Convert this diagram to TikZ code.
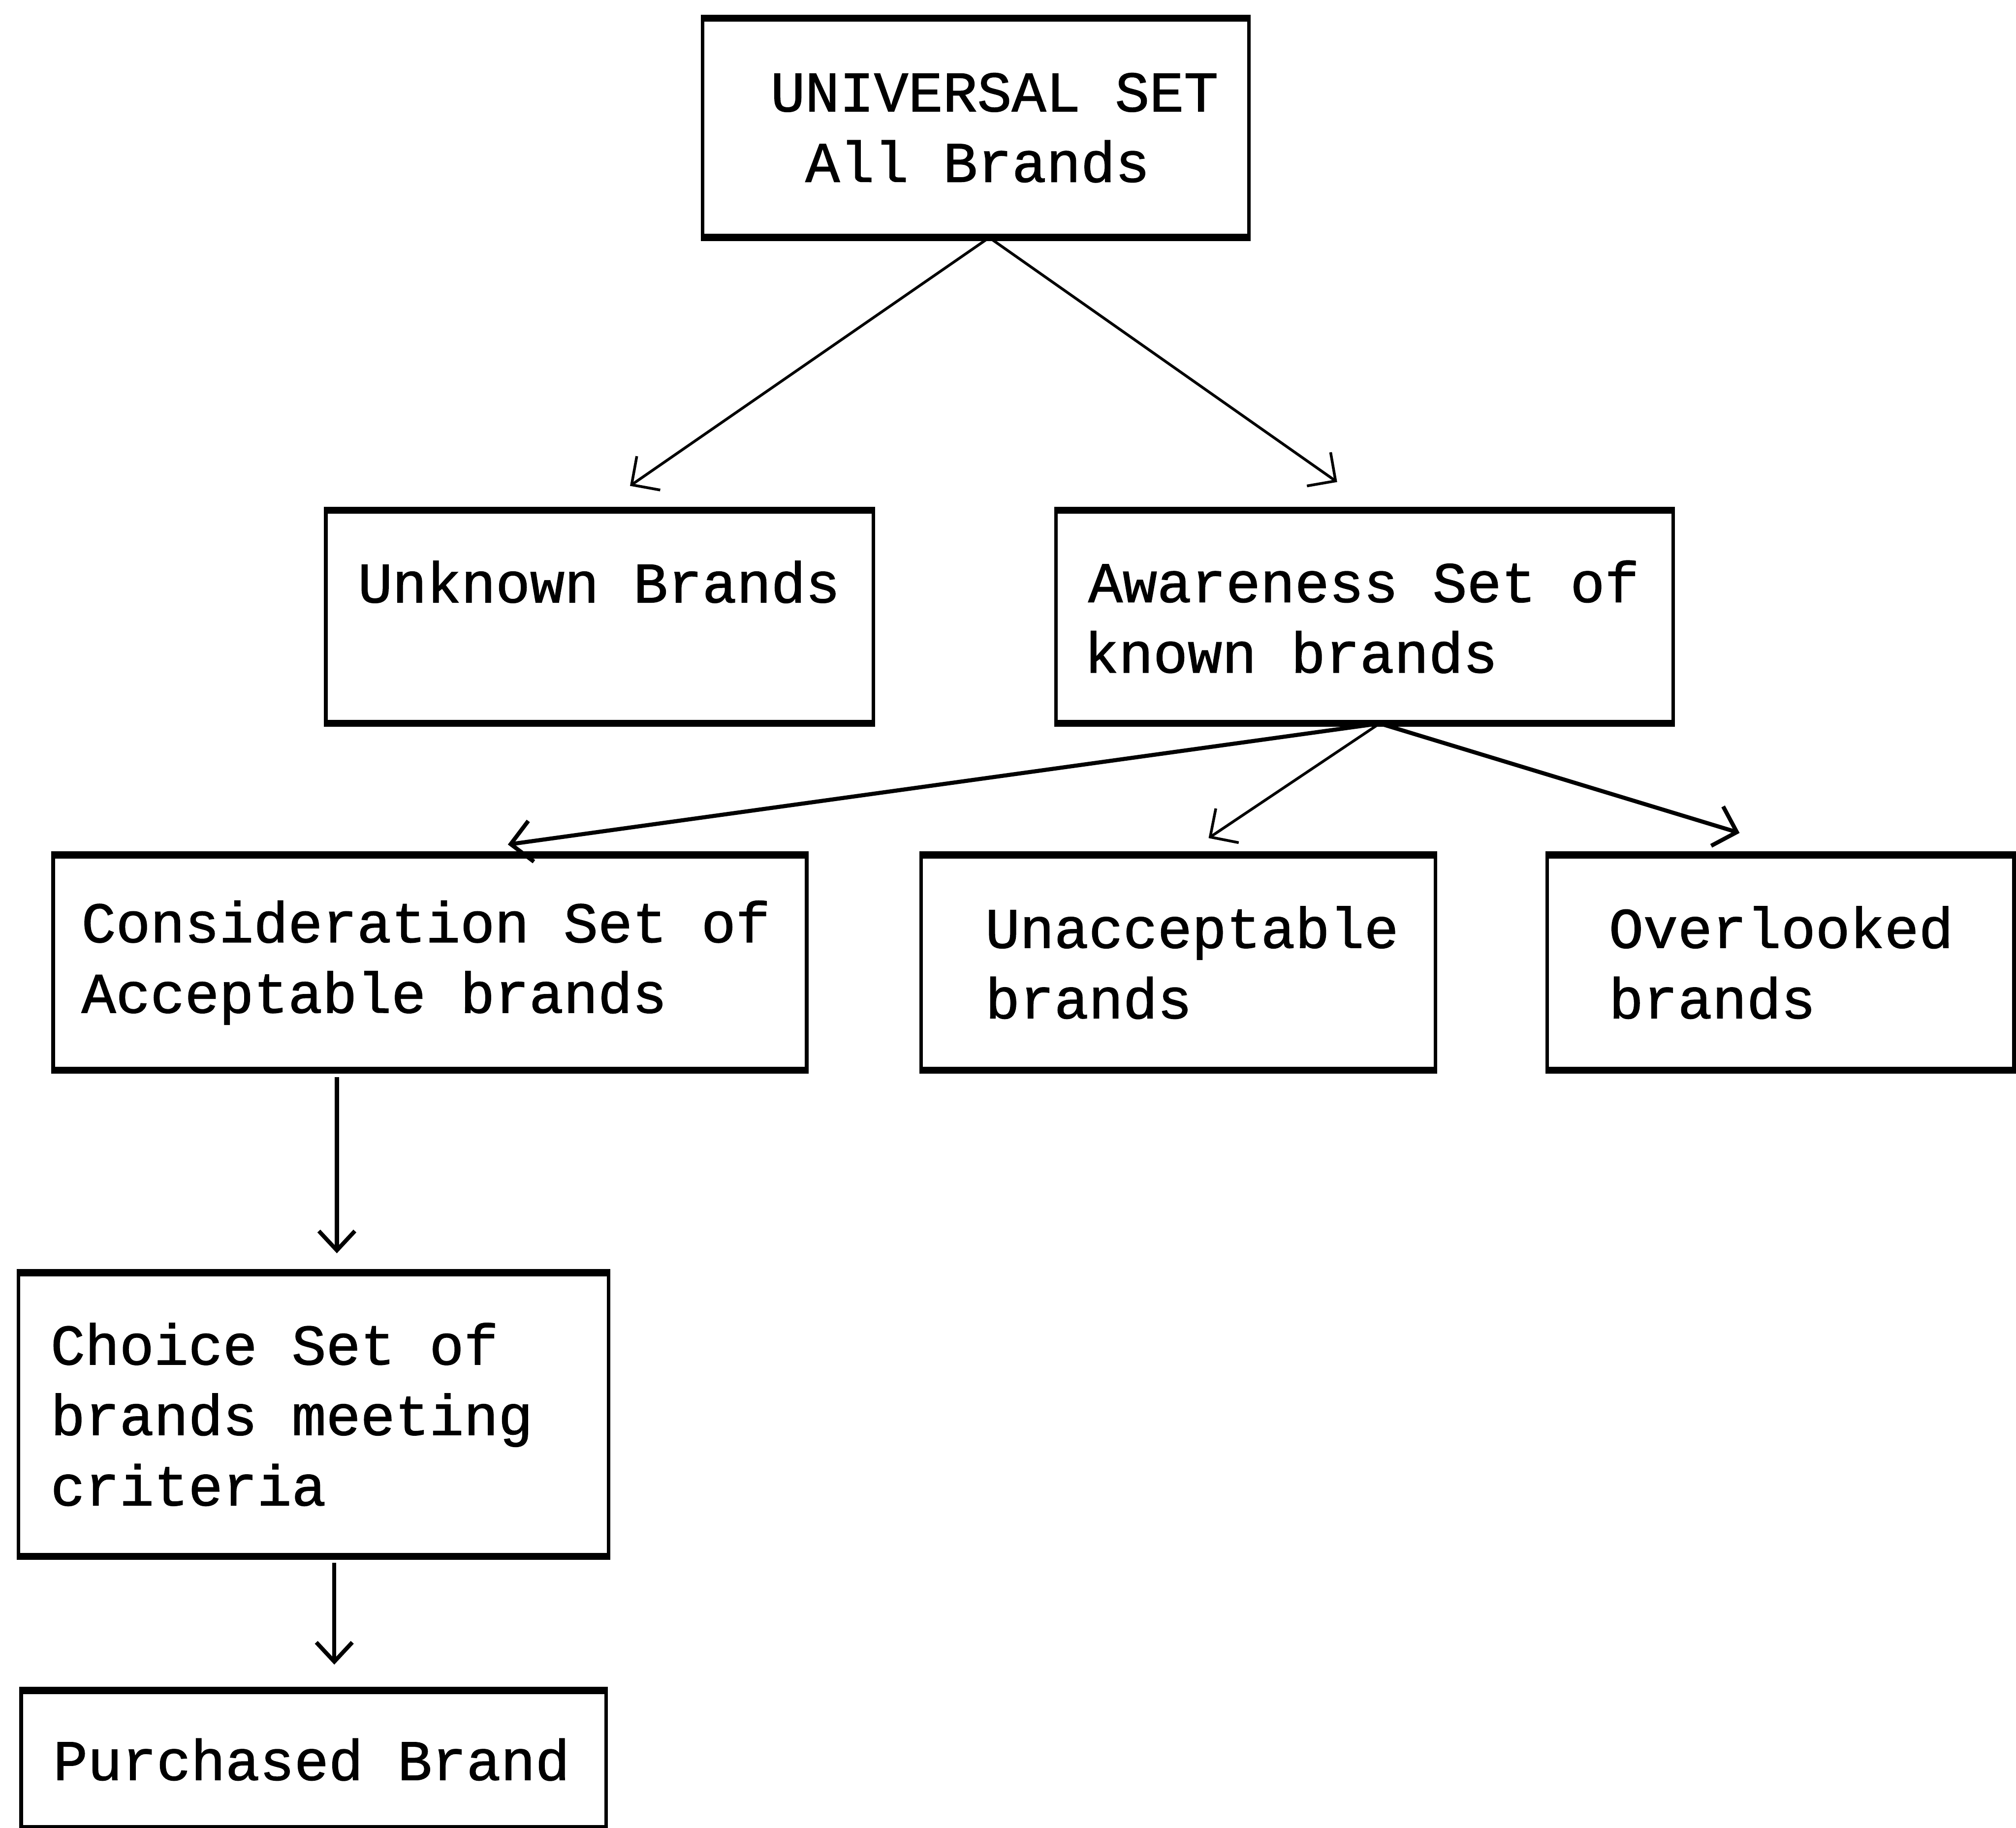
\documentclass[tikz,border=0pt]{standalone}
\usepackage{fontspec}
\setmonofont{Liberation Mono}[UprightFeatures={FakeBold=1.2}]
\usetikzlibrary{arrows.meta}
\newcommand\ind[1]{\hspace*{#1}}
\newcommand\tsp{\hphantom{x}}
\tikzset{
  box/.style={draw, line width=0.8pt, anchor=north west, inner xsep=0pt, inner ysep=0pt,
    align=left, font=\fontsize{12.7}{15.6}\selectfont\ttfamily},
  edgeline/.style={line width=1.5pt},
  arr/.style={-{Straight Barb[length=1.6mm,width=3.2mm]}, line width=0.6pt},
  arrthick/.style={arr, line width=0.9pt},
  arrv/.style={-{Straight Barb[length=1.5mm,width=2.8mm]}, line width=0.9pt}
}
\begin{document}
\begin{tikzpicture}
\useasboundingbox (0,0) rectangle (15.68,-14.22);
% boxes
\node[box, text width=4.25cm, minimum height=1.68cm] (u) at (5.45,-0.14)
  {\ind{0.53cm}UNIVERSAL\tsp{}SET\\\ind{0.80cm}All\tsp{}Brands};
\node[box, text width=4.26cm, minimum height=1.63cm] (k) at (2.52,-3.97)
  {\ind{0.25cm}Unknown\tsp{}Brands\\\mbox{}};
\node[box, text width=4.80cm, minimum height=1.63cm] (a) at (8.20,-3.97)
  {\ind{0.25cm}Awareness\tsp{}Set\tsp{}of\\\ind{0.22cm}known\tsp{}brands};
\node[box, text width=5.86cm, minimum height=1.65cm] (c) at (0.40,-6.65)
  {\ind{0.22cm}Consideration\tsp{}Set\tsp{}of\\\ind{0.22cm}Acceptable\tsp{}brands};
\node[box, text width=4.00cm, minimum height=1.65cm] (ua) at (7.15,-6.65)
  {\ind{0.50cm}Unacceptable\\\ind{0.50cm}brands};
\node[box, text width=3.63cm, minimum height=1.65cm] (o) at (12.02,-6.65)
  {\ind{0.48cm}Overlooked\\\ind{0.48cm}brands};
\node[box, text width=4.59cm, minimum height=2.18cm] (ch) at (0.13,-9.90)
  {\ind{0.25cm}Choice\tsp{}Set\tsp{}of\\\ind{0.25cm}brands\tsp{}meeting\\\ind{0.25cm}criteria};
\node[box, text width=4.55cm, minimum height=1.05cm] (p) at (0.15,-13.15)
  {\ind{0.25cm}Purchased\tsp{}Brand};
% thicker top and bottom edges
\foreach \n in {u,k,a,c,ua,o,ch,p}
  \draw[edgeline] (\n.north west) -- (\n.north east) (\n.south west) -- (\n.south east);
% arrow ends
\coordinate (k1) at (4.90,-3.78);
\coordinate (a1) at (10.40,-3.75);
\coordinate (c1) at (3.95,-6.57);
\coordinate (ua1) at (9.40,-6.52);
\coordinate (o1) at (13.53,-6.48);
% connectors
\draw[arr] (u.-83) -- (k1);
\draw[arr] (u.-83) -- (a1);
\draw[arrthick] (a.-82) -- (c1);
\draw[arr] (a.-82) -- (ua1);
\draw[arrthick] (a.-82) -- (o1);
\draw[arrv, shorten <=0.05cm, shorten >=0.15cm] (2.62,0 |- c.south) -- (2.62,0 |- ch.north);
\draw[arrv, shorten <=0.05cm, shorten >=0.20cm] (2.60,0 |- ch.south) -- (2.60,0 |- p.north);
\end{tikzpicture}
\end{document}
